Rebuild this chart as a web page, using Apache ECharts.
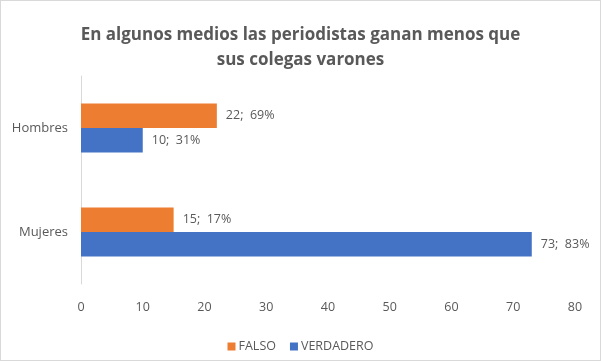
<!DOCTYPE html>
<html>
<head>
<meta charset="utf-8">
<script src="https://cdn.jsdelivr.net/npm/echarts@6/dist/echarts.min.js"></script>
<style>
html, body { margin: 0; padding: 0; background: #fff; }
#chart { width: 599px; height: 359px; border: 1px solid #d9d9d9; }
</style>
</head>
<body>
<div id="chart"></div>
<script>
var categories = ["Mujeres", "Hombres"];
var falsoValues = [15, 22];
var verdaderoValues = [73, 10];
var seriesNames = ["FALSO", "VERDADERO"];
var xTicks = [0, 80, 10];

var textColor = "#595959";

function pctLabel(params) {
    var i = params.dataIndex;
    var total = falsoValues[i] + verdaderoValues[i];
    return params.value + ";  " + Math.round(params.value / total * 100) + "%";
}

var chart = echarts.init(document.getElementById("chart"));
chart.setOption({
    animation: false,
    textStyle: { fontFamily: "Open Sans" },
    title: {
        text: "En algunos medios las periodistas ganan menos que\nsus colegas varones",
        left: "center",
        top: 17,
        textStyle: { fontSize: 17, fontWeight: "bold", color: "#595959", lineHeight: 24.5, fontFamily: "Open Sans" }
    },
    legend: {
        data: seriesNames,
        bottom: 2,
        itemWidth: 8,
        itemHeight: 8,
        itemGap: 14,
        icon: "rect",
        textStyle: { color: textColor, fontSize: 12.5, padding: [0, 0, 0, -2] }
    },
    grid: { left: 80, right: 25, top: 75, bottom: 76 },
    xAxis: {
        type: "value",
        min: xTicks[0],
        max: xTicks[1],
        interval: xTicks[2],
        splitLine: { show: false },
        axisLine: { show: false },
        axisTick: { show: false },
        axisLabel: { color: textColor, fontSize: 12.5, margin: 17 }
    },
    yAxis: {
        type: "category",
        data: categories,
        axisLine: { show: true, lineStyle: { color: "#d9d9d9" } },
        axisTick: { show: false },
        axisLabel: { color: textColor, fontSize: 13, margin: 13 }
    },
    series: [
        {
            name: seriesNames[0],
            type: "bar",
            data: falsoValues,
            itemStyle: { color: "#ED7D31" },
            barGap: "0%",
            barCategoryGap: "53%",
            label: { show: true, position: "right", distance: 9, color: textColor, fontSize: 12.5, formatter: pctLabel }
        },
        {
            name: seriesNames[1],
            type: "bar",
            data: verdaderoValues,
            itemStyle: { color: "#4472C4" },
            barGap: "0%",
            barCategoryGap: "53%",
            label: { show: true, position: "right", distance: 9, color: textColor, fontSize: 12.5, formatter: pctLabel }
        }
    ]
});
</script>
</body>
</html>
